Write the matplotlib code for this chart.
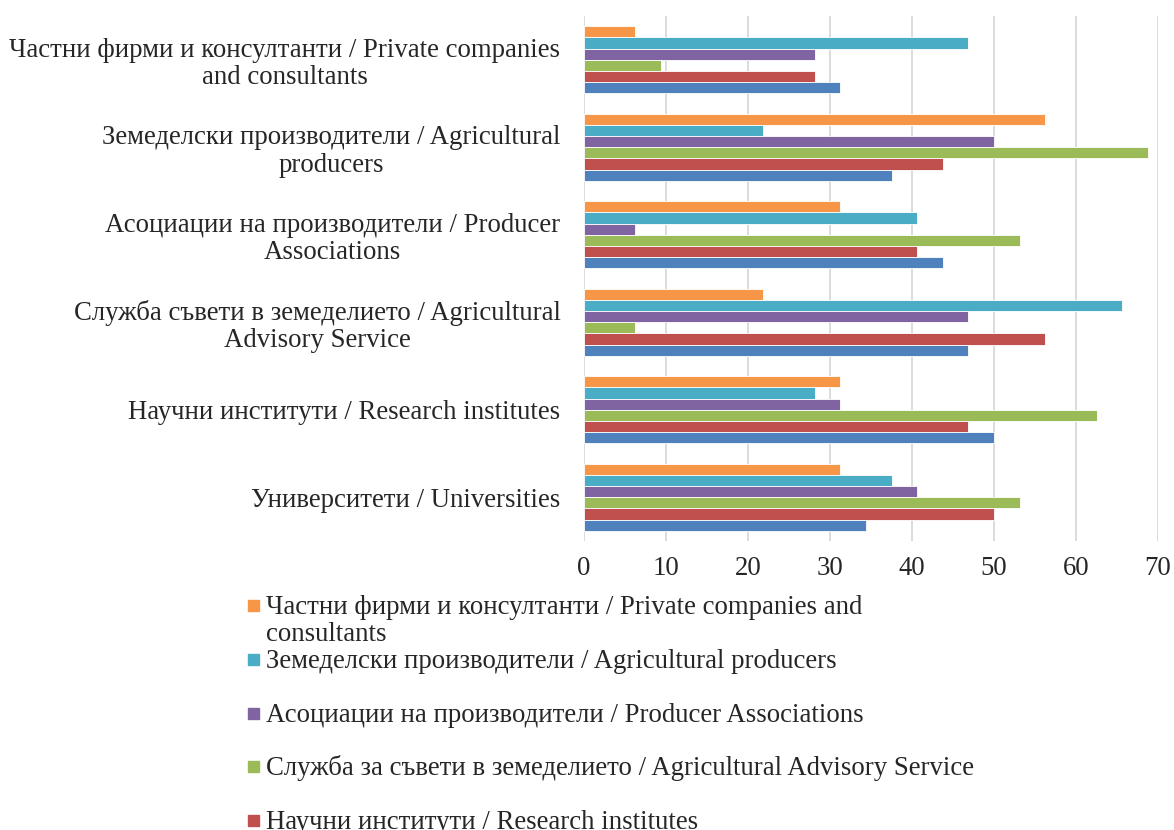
import numpy as np
import matplotlib
matplotlib.use("Agg")
import matplotlib.pyplot as plt
from matplotlib.patches import Rectangle

plt.rcParams["font.family"] = ["Liberation Serif", "DejaVu Serif"]

# categories, top to bottom as shown
CATEGORIES = [
    "Частни фирми и консултанти / Private companies\nand consultants",
    "Земеделски производители / Agricultural\nproducers",
    "Асоциации на производители / Producer\nAssociations",
    "Служба съвети в земеделието / Agricultural\nAdvisory Service",
    "Научни институти / Research institutes",
    "Университети / Universities",
]

SERIES = [
    "Частни фирми и консултанти / Private companies and\nconsultants",
    "Земеделски производители / Agricultural producers",
    "Асоциации на производители / Producer Associations",
    "Служба за съвети в земеделието / Agricultural Advisory Service",
    "Научни институти / Research institutes",
    "Университети / Universities",
]

# values per series, in category order above (top to bottom)
private_companies = [6.25, 56.25, 31.25, 21.875, 31.25, 31.25]
agri_producers    = [46.875, 21.875, 40.625, 65.625, 28.125, 37.5]
producer_assoc    = [28.125, 50.0, 6.25, 46.875, 31.25, 40.625]
advisory_service  = [9.375, 68.75, 53.125, 6.25, 62.5, 53.125]
research_inst     = [28.125, 43.75, 40.625, 56.25, 46.875, 50.0]
universities      = [31.25, 37.5, 43.75, 46.875, 50.0, 34.375]

VALUES = [private_companies, agri_producers, producer_assoc,
          advisory_service, research_inst, universities]
COLORS = ["#F79646", "#4BACC6", "#8064A2", "#9BBB59", "#C0504D", "#4F81BD"]

X_TICKS = [0, 10, 20, 30, 40, 50, 60, 70]

FS = 19.3
W, H = 1174, 830
fig = plt.figure(figsize=(W / 100, H / 100), dpi=100)
ax = fig.add_axes([584 / W, 1 - 541 / H, (1158 - 584) / W, (541 - 16) / H])

y = np.arange(len(CATEGORIES))
bar_h = 0.128
for i, (vals, col) in enumerate(zip(VALUES, COLORS)):
    offs = (i - 2.5) * bar_h
    ax.barh(y + offs, vals, height=bar_h, color=col,
            edgecolor="white", linewidth=0.6, zorder=3)

ax.set_ylim(-0.5, len(CATEGORIES) - 0.5)
ax.invert_yaxis()
ax.set_xlim(0, 70)
ax.set_xticks(X_TICKS)
ax.set_xticklabels([str(t) for t in X_TICKS])
ax.set_yticks(y)
ax.set_yticklabels(CATEGORIES, multialignment="center", linespacing=1.12)
ax.tick_params(axis="both", length=0, labelsize=FS, colors="#262626")
ax.tick_params(axis="y", pad=17)
ax.tick_params(axis="x", pad=11)
ax.xaxis.grid(True, color="#D9D9D9", linewidth=1.3, zorder=0)
for s in ax.spines.values():
    s.set_visible(False)

# legend drawn by hand so that it runs off the bottom like the original
for i, (name, col) in enumerate(zip(SERIES, COLORS)):
    ypix = 605 + 53.8 * i
    fig.add_artist(Rectangle((248 / W, 1 - (ypix + 6) / H), 11 / W, 11 / H,
                             transform=fig.transFigure, color=col))
    n_lines = name.count("\n")
    fig.text(266 / W, 1 - (ypix + 9 + 27 * n_lines) / H, name, fontsize=FS,
             color="#262626", va="baseline", ha="left", linespacing=1.12)

fig.savefig("out.png", dpi=100)
